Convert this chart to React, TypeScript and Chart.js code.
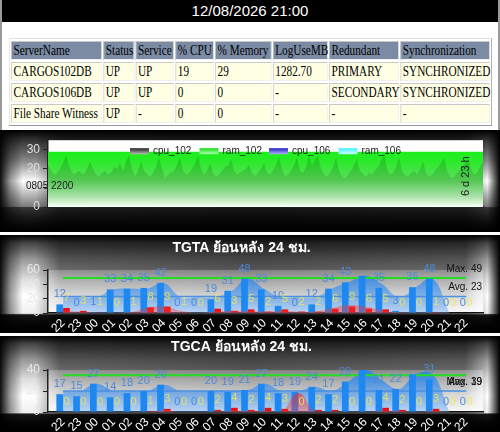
import React, { useEffect, useRef } from "react";
import { Chart, registerables } from "chart.js";

Chart.register(...registerables);

if (typeof document !== "undefined") {
  document.body.style.margin = "0";
}

const SANS = 'Arial, "Liberation Sans", Helvetica, sans-serif';
const SERIF = '"Times New Roman", "Liberation Serif", serif';
Chart.defaults.font.family = SANS;

// ---------- header + status table ----------
const REPORT_TIME = "12/08/2026 21:00";
const TABLE_HEADERS = ["ServerName", "Status", "Service", "% CPU", "% Memory", "LogUseMB", "Redundant", "Synchronization"];
const ROW_CARGOS102 = ["CARGOS102DB", "UP", "UP", "19", "29", "1282.70", "PRIMARY", "SYNCHRONIZED"];
const ROW_CARGOS106 = ["CARGOS106DB", "UP", "UP", "0", "0", "-", "SECONDARY", "SYNCHRONIZED"];
const ROW_WITNESS = ["File Share Witness", "UP", "-", "0", "0", "-", "-", "-"];

// ---------- performance (7 days) ----------
const PERF_SERIES = ["cpu_102", "ram_102", "cpu_106", "ram_106"];
const CPU_102 = [
  22, 19, 17, 18, 20, 23, 27, 22, 18, 17, 19, 18, 17, 20, 24, 20, 17, 16, 18, 19,
  17, 18, 21, 20, 23, 19, 24, 27, 20, 16, 19, 24, 19, 17, 16, 18, 21, 26, 20, 15,
  17, 18, 19, 22, 26, 19, 17, 18, 20, 23, 27, 20, 17, 19, 23, 18, 16, 17, 19, 21,
  22, 25, 19, 17, 18, 19, 20, 22, 18, 16, 18, 20, 23, 18, 17, 19, 22, 26, 20, 16,
  17, 19, 22, 26, 19, 18, 21, 27, 22, 25, 27, 20, 17, 16, 18, 21, 26, 19, 16, 15,
  17, 19, 22, 25, 19, 17, 16, 18, 17, 19, 21, 24, 28, 20, 17, 18, 21, 26, 19, 17,
  16, 18, 19, 17, 20, 24, 18, 16, 17, 19, 21, 23, 26, 19, 16, 15, 17, 19, 21, 23,
  26, 20, 17, 18, 21, 24,
];
const RAM_102 = 29;
const CPU_106 = 0;
const RAM_106 = 0;
const PERF_Y_MAX = 35;
const PERF_Y_STEP = 10;
const PERF_START = "0805 2200";
const PERF_SPAN = "6 d 23 h";

// ---------- hourly charts ----------
const HOURS = ["22", "23", "00", "01", "02", "03", "04", "05", "06", "07", "08", "09", "10", "11", "12", "13", "14", "15", "16", "17", "18", "19", "20", "21", "22"];

const TGTA_TITLE = "TGTA ย้อนหลัง 24 ชม.";
const TGTA_COUNT = [12, 0, 1, 33, 34, 35, 42, 0, 0, 19, 31, 48, 33, 10, 0, 12, 34, 43, 52, 35, 3, 36, 48, 0, 0];
const TGTA_ERROR = [7, 3, 1, 0, 1, 8, 9, 1, 0, 6, 3, 5, 2, 5, 2, 2, 6, 9, 6, 5, 0, 0, 1, 0, 0];
const TGTA_TREND = [22, 22, 22, 33, 34, 34, 42, 22, 22, 22, 30, 48, 33, 22, 22, 22, 34, 43, 52, 40, 22, 36, 48, 0, null];
const TGTA_ERROR_TREND = [4, 2, 0, 0, 1, 7, 9, 3, 0, 2, 3, 3, 2, 3, 2, 2, 7, 11, 9, 4, 1, 0, 1, 0, null];
const TGTA_MAX = 49;
const TGTA_AVG = 23;
const TGTA_MAX_TEXT = "Max. 49";
const TGTA_AVG_TEXT = "Avg. 23";
const TGTA_Y_MAX = 60;
const TGTA_Y_STEP = 20;

const TGCA_TITLE = "TGCA ย้อนหลัง 24 ชม.";
const TGCA_COUNT = [17, 15, 27, 14, 18, 20, 26, 0, 0, 20, 19, 21, 27, 18, 19, 24, 17, 29, 40, 21, 22, 36, 31, 0, 0];
const TGCA_ERROR = [0, 0, 0, 0, 0, 1, 3, 0, 0, 2, 4, 2, 4, 3, 0, 2, 2, 0, 0, 4, 2, 0, 3, 0, 0];
const TGCA_TREND = [20, 20, 27, 20, 20, 20, 26, 20, 20, 20, 20, 21, 27, 20, 20, 24, 20, 29, 40, 30, 22, 36, 36, 0, null];
const TGCA_ERROR_TREND = [0, 0, 0, 0, 0, 0, 2, 0, 0, 0, 1, 1, 1, 0, 18, 0, 0, 0, 0, 1, 1, 0, 1, 0, null];
const TGCA_MAX = 35;
const TGCA_AVG = 20;
const TGCA_MAX_TEXT = "Max. 39";
const TGCA_AVG_TEXT = "Avg. 19";
const TGCA_Y_MAX = 40;
const TGCA_Y_STEP = 20;

// ---------- styles ----------
const SIDE_SHADE =
  "linear-gradient(to right, rgba(0,0,0,0.95) 0%, rgba(0,0,0,0.4) 2%, rgba(0,0,0,0) 4.5%, rgba(0,0,0,0) 7%, rgba(0,0,0,0.45) 12%, rgba(0,0,0,0.55) 50%, rgba(0,0,0,0.45) 93%, rgba(0,0,0,0) 97.5%, rgba(0,0,0,1) 100%)";
const PERF_BG =
  "linear-gradient(to bottom, rgba(0,0,0,0) 0%, rgba(0,0,0,0) 75%, rgba(0,0,0,0.55) 76%, rgba(0,0,0,0.95) 100%), " +
  SIDE_SHADE +
  ", linear-gradient(to bottom, #000 0%, #333 10%, #888 30%, #fff 50%, #aaa 66%, #777 76%, #444 90%, #111 100%)";
const HOUR_BG =
  "linear-gradient(to bottom, rgba(0,0,0,0) 0%, rgba(0,0,0,0) 80%, rgba(0,0,0,0.75) 81.5%, rgba(0,0,0,1) 100%), " +
  SIDE_SHADE +
  ", linear-gradient(to bottom, #000 0%, #444 8%, #999 25%, #ddd 45%, #fff 62%, #eee 80%, #555 82%, #222 92%, #000 100%)";

const LEGEND_SWATCH = [
  ["#222", "#bbb"],
  ["#10dd10", "#b0ffb0"],
  ["#2020c0", "#b0b0ff"],
  ["#40eeff", "#d0ffff"],
];

function vGrad(chart: any, stops: [number, string][]) {
  const { ctx, chartArea } = chart;
  if (!chartArea) return stops[0][1];
  const g = ctx.createLinearGradient(0, chartArea.top, 0, chartArea.bottom);
  stops.forEach(([o, c]) => g.addColorStop(o, c));
  return g;
}

function PerfChart() {
  const ref = useRef<HTMLCanvasElement>(null);
  useEffect(() => {
    const labels = CPU_102.map((_, i) => i);
    const level = (v: number) => CPU_102.map(() => v);
    const decor = {
      id: "perfDecor",
      beforeDraw(chart: any) {
        const { ctx, chartArea: a } = chart;
        ctx.save();
        ctx.fillStyle = "#fff";
        ctx.fillRect(a.left, a.top, a.right - a.left, a.bottom - a.top);
        ctx.restore();
      },
      afterDraw(chart: any) {
        const { ctx, chartArea: a } = chart;
        ctx.save();
        ctx.font = "10px " + SANS;
        ctx.textBaseline = "middle";
        let x = 130;
        PERF_SERIES.forEach((name, i) => {
          const g = ctx.createLinearGradient(0, a.top + 8, 0, a.top + 14);
          g.addColorStop(0, LEGEND_SWATCH[i][0]);
          g.addColorStop(1, LEGEND_SWATCH[i][1]);
          ctx.fillStyle = g;
          ctx.fillRect(x, a.top + 8, 19, 6);
          ctx.fillStyle = "#222";
          ctx.textAlign = "left";
          ctx.fillText(name, x + 23, a.top + 11);
          x += 69.5;
        });
        ctx.fillStyle = "#222";
        ctx.textAlign = "left";
        ctx.fillText(PERF_START, 26, a.top + 46);
        ctx.translate(a.right - 17, a.top + 36);
        ctx.rotate(-Math.PI / 2);
        ctx.textAlign = "center";
        ctx.font = "11px " + SANS;
        ctx.fillText(PERF_SPAN, 0, 0);
        ctx.restore();
      },
    };
    const chart = new Chart(ref.current!, {
      type: "line",
      data: {
        labels,
        datasets: [
          {
            label: PERF_SERIES[0],
            data: CPU_102,
            fill: "origin",
            borderWidth: 0,
            pointRadius: 0,
            tension: 0,
            backgroundColor: (c: any) =>
              vGrad(c.chart, [
                [0, "rgba(0,80,0,0.25)"],
                [0.5, "rgba(0,70,0,0.16)"],
                [1, "rgba(0,0,0,0)"],
              ]),
          },
          {
            label: PERF_SERIES[1],
            data: level(RAM_102),
            fill: "origin",
            borderWidth: 0,
            pointRadius: 0,
            backgroundColor: (c: any) =>
              vGrad(c.chart, [
                [0, "rgb(10,245,10)"],
                [0.3, "rgb(40,235,40)"],
                [0.6, "rgb(95,220,95)"],
                [0.85, "rgb(180,238,180)"],
                [1, "rgb(250,255,250)"],
              ]),
          },
          { label: PERF_SERIES[2], data: level(CPU_106), fill: "origin", borderWidth: 0, pointRadius: 0, backgroundColor: "rgba(40,40,200,0.5)" },
          { label: PERF_SERIES[3], data: level(RAM_106), fill: "origin", borderWidth: 0, pointRadius: 0, backgroundColor: "rgba(80,230,255,0.5)" },
        ],
      },
      options: {
        responsive: false,
        animation: false,
        layout: { padding: { top: 4, right: 17, left: 0, bottom: 0 } },
        plugins: { legend: { display: false }, tooltip: { enabled: false } },
        scales: {
          x: {
            type: "category",
            offset: false,
            ticks: { display: false },
            grid: { display: false, drawTicks: false },
            border: { display: true, color: "#222", width: 1.5 },
            afterFit: (s: any) => {
              s.height = 25;
            },
          },
          y: {
            min: 0,
            max: PERF_Y_MAX,
            ticks: { stepSize: PERF_Y_STEP, includeBounds: false, autoSkip: false, color: "#ddd", font: { size: 12 }, padding: 3 },
            grid: { drawOnChartArea: false, drawTicks: true, tickLength: 5, color: "#222" },
            border: { color: "#222", width: 1.5 },
            afterFit: (s: any) => {
              s.width = 48;
            },
          },
        },
      },
      plugins: [decor],
    } as any);
    return () => chart.destroy();
  }, []);
  return <canvas ref={ref} width={500} height={102} style={{ display: "block" }} />;
}

type HourProps = {
  height: number;
  title: string;
  titlePad: [number, number];
  count: number[];
  error: number[];
  trend: (number | null)[];
  errTrend: (number | null)[];
  maxV: number;
  avgV: number;
  maxText: string;
  avgText: string;
  textAt: [number, number];
  yMax: number;
  yStep: number;
};

function HourChart(p: HourProps) {
  const ref = useRef<HTMLCanvasElement>(null);
  useEffect(() => {
    const pts = (arr: (number | null)[]) =>
      arr.map((v, i) => (v === null ? null : { x: i, y: v })).filter((o) => o !== null);
    const last = HOURS.length - 1;
    const decor = {
      id: "hourDecor",
      beforeDraw(chart: any) {
        const { ctx, chartArea: a } = chart;
        ctx.save();
        const g = ctx.createLinearGradient(0, a.top, 0, a.bottom);
        g.addColorStop(0, "rgba(255,255,255,0.25)");
        g.addColorStop(1, "rgba(255,255,255,0.95)");
        ctx.fillStyle = g;
        ctx.fillRect(a.left, a.top, a.right - a.left, a.bottom - a.top);
        ctx.restore();
      },
      afterDatasetsDraw(chart: any) {
        const { ctx, chartArea: a } = chart;
        const y = chart.scales.y;
        ctx.save();
        ctx.font = "11px " + SANS;
        ctx.textAlign = "center";
        ctx.textBaseline = "middle";
        const countMeta = chart.getDatasetMeta(3);
        countMeta.data.forEach((el: any, i: number) => {
          const v = p.count[i];
          if (v > p.maxV) return;
          ctx.fillStyle = "#4d8ad6";
          ctx.fillText(String(v), el.x, y.getPixelForValue(v) - 10);
        });
        const errMeta = chart.getDatasetMeta(4);
        errMeta.data.forEach((el: any, i: number) => {
          const v = p.error[i];
          ctx.fillStyle = "rgba(240,232,80,0.85)";
          ctx.fillText(String(v), el.x, y.getPixelForValue(v) - 10);
        });
        ctx.font = "10px " + SANS;
        ctx.textAlign = "right";
        ctx.fillStyle = "#111";
        ctx.fillText(p.maxText, a.right - 1, y.getPixelForValue(p.textAt[0]) - 9);
        ctx.fillText(p.avgText, a.right - 1, y.getPixelForValue(p.textAt[1]) - 9);
        ctx.restore();
      },
    };
    const chart = new Chart(ref.current!, {
      type: "bar",
      data: {
        datasets: [
          {
            type: "line",
            label: "trend",
            data: pts(p.trend),
            fill: "origin",
            tension: 0.4,
            borderWidth: 0,
            pointRadius: 0,
            order: 7,
            backgroundColor: (c: any) =>
              vGrad(c.chart, [
                [0, "rgba(30,130,240,0.85)"],
                [1, "rgba(90,160,240,0.4)"],
              ]),
          },
          {
            type: "line",
            label: "max",
            data: [
              { x: 0, y: p.maxV },
              { x: last, y: p.maxV },
            ],
            borderColor: "#22dd22",
            borderWidth: 2,
            pointRadius: 0,
            order: 6,
          },
          {
            type: "line",
            label: "avg",
            data: [
              { x: 0, y: p.avgV },
              { x: last, y: p.avgV },
            ],
            borderColor: "#4a8fe0",
            borderWidth: 1.5,
            pointRadius: 0,
            order: 6,
          },
          {
            type: "bar",
            label: "count",
            data: pts(p.count),
            backgroundColor: "#1e88f0",
            categoryPercentage: 0.8,
            barPercentage: 1,
            order: 3,
          },
          {
            type: "bar",
            label: "error",
            data: pts(p.error),
            backgroundColor: "#e81010",
            categoryPercentage: 0.8,
            barPercentage: 1,
            order: 4,
          },
          {
            type: "line",
            label: "errTrend",
            data: pts(p.errTrend),
            fill: "origin",
            tension: 0.4,
            borderWidth: 0,
            pointRadius: 0,
            order: 1,
            backgroundColor: (c: any) =>
              vGrad(c.chart, [
                [0, "rgba(235,0,0,0.85)"],
                [1, "rgba(255,60,60,0.35)"],
              ]),
          },
        ],
      },
      options: {
        responsive: false,
        animation: false,
        layout: { padding: { top: 0, right: 17, left: 0, bottom: 0 } },
        plugins: {
          legend: { display: false },
          tooltip: { enabled: false },
          title: {
            display: true,
            text: p.title,
            color: "#fff",
            font: { size: 14, weight: "bold" },
            padding: { top: p.titlePad[0], bottom: p.titlePad[1] },
          },
        },
        scales: {
          x: {
            type: "linear",
            min: -0.9,
            max: 25,
            offset: false,
            grid: { display: false, drawTicks: false },
            border: { display: true, color: "#111", width: 1.5 },
            ticks: {
              stepSize: 1,
              includeBounds: false,
              autoSkip: false,
              minRotation: 45,
              maxRotation: 45,
              color: "#fff",
              font: { size: 12 },
              padding: 3,
              callback: (v: any) => HOURS[v] ?? "",
            },
            afterFit: (s: any) => {
              s.height = 20;
            },
          },
          y: {
            min: 0,
            max: p.yMax,
            ticks: { stepSize: p.yStep, autoSkip: false, color: "#e8e8e8", font: { size: 12 }, padding: 3 },
            grid: { drawOnChartArea: false, drawTicks: true, tickLength: 5, color: "#222" },
            border: { color: "#222", width: 1.5 },
            afterFit: (s: any) => {
              s.width = 48;
            },
          },
        },
      },
      plugins: [decor],
    } as any);
    return () => chart.destroy();
  }, []);
  return <canvas ref={ref} width={500} height={p.height} style={{ display: "block" }} />;
}

const COL_WIDTHS = [121, 41, 51, 51, 75, 73, 93, 119];

function StatusTable() {
  const cell = (txt: string, i: number, header: boolean) => (
    <td
      key={i}
      style={{
        width: COL_WIDTHS[i],
        boxSizing: "border-box",
        height: 19,
        lineHeight: "17px",
        padding: "0 0 0 2px",
        whiteSpace: "nowrap",
        overflow: "visible",
        background: header ? "#7b8ba4" : "#ffffe4",
        border: "1px solid",
        borderColor: "#c8c8c8 #f0f0f0 #f0f0f0 #c8c8c8",
        color: "#000",
        textAlign: "left",
        fontWeight: "normal",
      }}
    >
      {txt}
    </td>
  );
  return (
    <div style={{ position: "absolute", left: 9, top: 38, transform: "scaleX(0.75)", transformOrigin: "0 0" }}>
      <table
        style={{
          borderCollapse: "separate",
          borderSpacing: 2,
          border: "1px solid",
          borderColor: "#e0e0e0 #999 #999 #e0e0e0",
          tableLayout: "fixed",
          width: 644,
          fontFamily: SERIF,
          fontSize: 15,
          background: "#fff",
        }}
      >
        <tbody>
          <tr>{TABLE_HEADERS.map((t, i) => cell(t, i, true))}</tr>
          <tr>{ROW_CARGOS102.map((t, i) => cell(t, i, false))}</tr>
          <tr>{ROW_CARGOS106.map((t, i) => cell(t, i, false))}</tr>
          <tr>{ROW_WITNESS.map((t, i) => cell(t, i, false))}</tr>
        </tbody>
      </table>
    </div>
  );
}

export default function App() {
  return (
    <div style={{ position: "relative", width: 500, height: 432, overflow: "hidden", background: "#fff" }}>
      <div style={{ position: "absolute", left: 0, top: 0, width: 500, height: 130, background: "#9a9a9a" }} />
      <div
        style={{
          position: "absolute",
          left: 2,
          top: 0,
          width: 496,
          height: 22,
          background: "#000",
          color: "#fff",
          fontFamily: SANS,
          fontSize: 15,
          lineHeight: "22px",
          textAlign: "center",
        }}
      >
        {REPORT_TIME}
      </div>
      <div style={{ position: "absolute", left: 2, top: 22, width: 496, height: 108, background: "#fff" }} />
      <StatusTable />
      <div style={{ position: "absolute", left: 0, top: 130, width: 500, height: 102, background: PERF_BG }}>
        <PerfChart />
      </div>
      <div style={{ position: "absolute", left: 0, top: 235, width: 500, height: 98, background: HOUR_BG }}>
        <HourChart
          height={98}
          title={TGTA_TITLE}
          titlePad={[4.6, 13.6]}
          count={TGTA_COUNT}
          error={TGTA_ERROR}
          trend={TGTA_TREND}
          errTrend={TGTA_ERROR_TREND}
          maxV={TGTA_MAX}
          avgV={TGTA_AVG}
          maxText={TGTA_MAX_TEXT}
          avgText={TGTA_AVG_TEXT}
          textAt={[TGTA_MAX, TGTA_AVG]}
          yMax={TGTA_Y_MAX}
          yStep={TGTA_Y_STEP}
        />
      </div>
      <div style={{ position: "absolute", left: 0, top: 336, width: 500, height: 96, background: HOUR_BG }}>
        <HourChart
          height={96}
          title={TGCA_TITLE}
          titlePad={[3, 14.2]}
          count={TGCA_COUNT}
          error={TGCA_ERROR}
          trend={TGCA_TREND}
          errTrend={TGCA_ERROR_TREND}
          maxV={TGCA_MAX}
          avgV={TGCA_AVG}
          maxText={TGCA_MAX_TEXT}
          avgText={TGCA_AVG_TEXT}
          textAt={[TGCA_AVG, TGCA_AVG]}
          yMax={TGCA_Y_MAX}
          yStep={TGCA_Y_STEP}
        />
      </div>
    </div>
  );
}
